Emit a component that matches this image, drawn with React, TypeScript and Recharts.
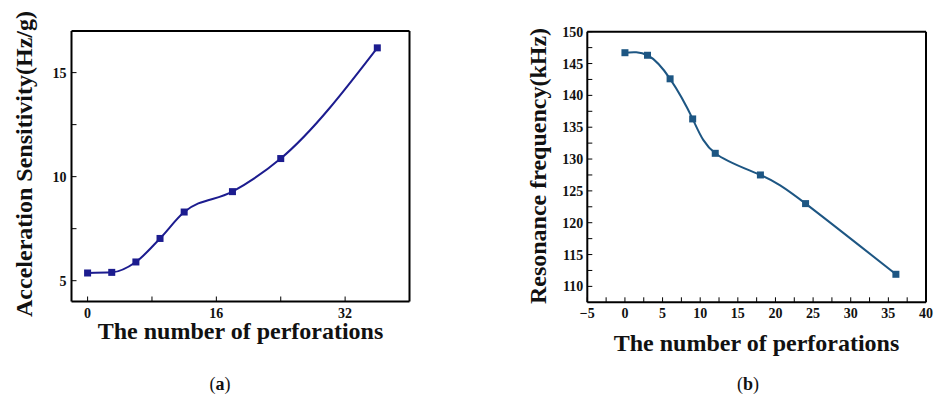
import { Line, LineChart, XAxis, YAxis } from "recharts";

const perforations = [0, 3, 6, 9, 12, 18, 24, 36];
const sensitivity = [5.37, 5.4, 5.9, 7.03, 8.3, 9.28, 10.87, 16.19];
const resonance = [146.7, 146.3, 142.6, 136.3, 130.9, 127.5, 123.0, 111.9];

const aXMajor = [0, 16, 32];
const aXMinor = [8, 24];
const aYMajor = [5, 10, 15];
const aYMinor = [7.5, 12.5];

const bXMajor = [-5, 0, 5, 10, 15, 20, 25, 30, 35, 40];
const bXMinor = [-2.5, 2.5, 7.5, 12.5, 17.5, 22.5, 27.5, 32.5, 37.5];
const bYMajor = [110, 115, 120, 125, 130, 135, 140, 145, 150];
const bYMinor = [112.5, 117.5, 122.5, 127.5, 132.5, 137.5, 142.5, 147.5];

const aXDomain = [-2, 40];
const aYDomain = [4, 17];
const bXDomain = [-5, 40];
const bYDomain = [107.5, 150];

const X_TITLE = "The number of perforations";
const A_Y_TITLE = "Acceleration Sensitivity(Hz/g)";
const B_Y_TITLE = "Resonance frequency(kHz)";

const FONT = "'Liberation Serif', 'Times New Roman', serif";
const COLOR_A = "#1c1c8f";
const COLOR_B = "#1d5683";

const dataA = perforations.map((x, i) => ({ x, y: sensitivity[i] }));
const dataB = perforations.map((x, i) => ({ x, y: resonance[i] }));

// minor ticks keep their mark but get no label
const labelMajors = (majors: number[]) => (v: number) =>
  majors.includes(v) ? (v < 0 ? "\u2212" + Math.abs(v) : String(v)) : "";

const tickText = { fill: "#111", fontFamily: FONT, fontWeight: "bold", fontSize: 14 };

const square = (color: string) => (p: any) => (
  <rect key={p.index} x={p.cx - 3.5} y={p.cy - 3.5} width={7} height={7} fill={color} />
);

function ChartA() {
  return (
    <LineChart width={470} height={398} data={dataA}
      margin={{ top: 29, right: 58.5, bottom: 66.5, left: 11.5 }}>
      <XAxis dataKey="x" type="number" domain={aXDomain}
        ticks={[...aXMajor, ...aXMinor]} interval={0} height={30} tickSize={-5} tickMargin={12}
        tickFormatter={labelMajors(aXMajor)} tick={tickText}
        axisLine={{ stroke: "#000", strokeWidth: 2 }} tickLine={{ stroke: "#000" }} />
      <XAxis xAxisId="top" dataKey="x" orientation="top" type="number" domain={aXDomain}
        ticks={[...aXMajor, ...aXMinor]} interval={0} height={2} tickSize={-5} tick={false}
        axisLine={{ stroke: "#000", strokeWidth: 2 }} tickLine={{ stroke: "#000" }} />
      <YAxis type="number" domain={aYDomain}
        ticks={[...aYMajor, ...aYMinor]} interval={0} width={60} tickSize={-5} tickMargin={10}
        tickFormatter={labelMajors(aYMajor)} tick={tickText}
        axisLine={{ stroke: "#000", strokeWidth: 2 }} tickLine={{ stroke: "#000" }} />
      <YAxis yAxisId="right" orientation="right" type="number" domain={aYDomain}
        ticks={[...aYMajor, ...aYMinor]} interval={0} width={2} tickSize={-5} tick={false}
        axisLine={{ stroke: "#000", strokeWidth: 2 }} tickLine={{ stroke: "#000" }} />
      {/* unstroked copy on the mirror axes so their scales are built */}
      <Line xAxisId="top" yAxisId="right" type="monotone" dataKey="y" stroke="none"
        dot={false} activeDot={false} isAnimationActive={false} />
      <Line type="monotone" dataKey="y" stroke={COLOR_A} strokeWidth={2}
        dot={square(COLOR_A)} activeDot={false} isAnimationActive={false} />
    </LineChart>
  );
}

function ChartB() {
  return (
    <LineChart width={464} height={398} data={dataB}
      margin={{ top: 29.7, right: 6, bottom: 65.7, left: 57.3 }}>
      <XAxis dataKey="x" type="number" domain={bXDomain}
        ticks={[...bXMajor, ...bXMinor]} interval={0} height={30} tickSize={-5} tickMargin={11}
        tickFormatter={labelMajors(bXMajor)} tick={tickText}
        axisLine={{ stroke: "#000", strokeWidth: 2 }} tickLine={{ stroke: "#000" }} />
      <XAxis xAxisId="top" dataKey="x" orientation="top" type="number" domain={bXDomain}
        height={2} tick={false} tickLine={false} axisLine={{ stroke: "#000", strokeWidth: 2 }} />
      <YAxis type="number" domain={bYDomain}
        ticks={[...bYMajor, ...bYMinor]} interval={0} width={60} tickSize={-5} tickMargin={9}
        tickFormatter={labelMajors(bYMajor)} tick={tickText}
        axisLine={{ stroke: "#000", strokeWidth: 2 }} tickLine={{ stroke: "#000" }} />
      <YAxis yAxisId="right" orientation="right" type="number" domain={bYDomain}
        width={2} tick={false} tickLine={false} axisLine={{ stroke: "#000", strokeWidth: 2 }} />
      <Line xAxisId="top" yAxisId="right" type="natural" dataKey="y" stroke="none"
        dot={false} activeDot={false} isAnimationActive={false} />
      <Line type="natural" dataKey="y" stroke={COLOR_B} strokeWidth={2}
        dot={square(COLOR_B)} activeDot={false} isAnimationActive={false} />
    </LineChart>
  );
}

const titleStyle = {
  position: "absolute" as const,
  fontFamily: FONT,
  fontWeight: "bold" as const,
  fontSize: 24,
  lineHeight: "24px",
  height: 24,
  textAlign: "center" as const,
  whiteSpace: "nowrap" as const,
  color: "#111",
};

const captionStyle = {
  position: "absolute" as const,
  fontFamily: FONT,
  fontSize: 18,
  lineHeight: "18px",
  width: 60,
  textAlign: "center" as const,
  color: "#111",
  top: 375,
};

export default function App() {
  return (
    <div style={{ position: "absolute", left: 0, top: 0, width: 934, height: 398, background: "#fff" }}>
      <div style={{ position: "absolute", left: 0, top: 0 }}>
        <ChartA />
      </div>
      <div style={{ position: "absolute", left: 470, top: 0 }}>
        <ChartB />
      </div>
      <div style={{ ...titleStyle, left: 40.5, top: 319, width: 400 }}>{X_TITLE}</div>
      <div style={{ ...titleStyle, left: 556.5, top: 331, width: 400 }}>{X_TITLE}</div>
      <div style={{ ...titleStyle, left: 23.9 - 160, top: 164 - 12, width: 320, transform: "rotate(-90deg)" }}>
        {A_Y_TITLE}
      </div>
      <div style={{ ...titleStyle, left: 538.4 - 160, top: 166 - 12, width: 320, transform: "rotate(-90deg)" }}>
        {B_Y_TITLE}
      </div>
      <div style={{ ...captionStyle, left: 190 }}>
        (<b>a</b>)
      </div>
      <div style={{ ...captionStyle, left: 718 }}>
        (<b>b</b>)
      </div>
    </div>
  );
}
